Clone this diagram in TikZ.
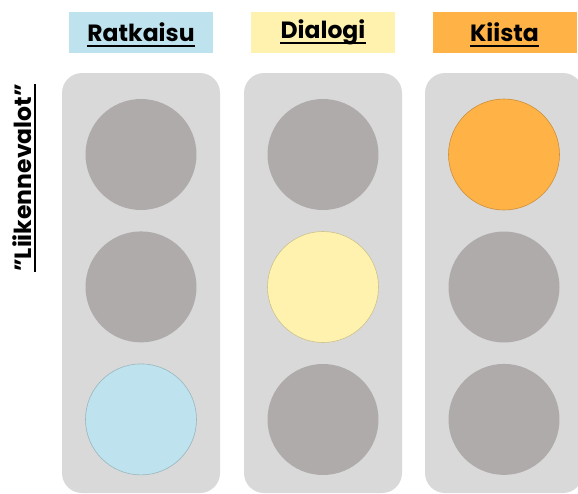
\documentclass[tikz,border=0pt]{standalone}
\usepackage{fontspec}
\setmainfont{Poppins}
\usepackage{xcolor}
\usetikzlibrary{positioning}

\definecolor{housegray}{HTML}{D9D9D9}
\definecolor{lampoff}{HTML}{AFABAB}
\definecolor{lampblue}{HTML}{BFE3EE}
\definecolor{lampyellow}{HTML}{FFF2AF}
\definecolor{lamporange}{HTML}{FFB347}

\begin{document}
\begin{tikzpicture}[
    x=1pt, y=-1pt,
    head/.style={rectangle, inner sep=0pt, minimum width=144pt, minimum height=41pt},
    title/.style={inner sep=0pt, font=\fontsize{23.5}{26}\selectfont\bfseries},
    uline/.style={line width=1.8pt},
    house/.style={rectangle, fill=housegray, rounded corners=20pt, inner sep=0pt, minimum width=158pt, minimum height=420pt},
    lamp/.style={circle, inner sep=0pt, minimum size=111pt, fill=lampoff},
    lampon/.style={lamp, draw=#1!80!black, fill=#1, line width=0.6pt}
]
    \useasboundingbox (0,0) rectangle (578,493);

    % headers
    \node [head, fill=lampblue] (h1) at (141,32.5) {};
    \node [head, fill=lampyellow] (h2) at (323,32.5) {};
    \node [head, fill=lamporange] (h3) at (504.5,32.5) {};
    \node [title] (t1) at (h1) {Ratkaisu};
    \node [title] (t2) at (h2) {Dialogi};
    \node [title] (t3) at (h3) {Kiista};
    \draw [uline] ([yshift=-4pt]t1.base west) -- ([yshift=-4pt]t1.base east);
    \draw [uline] ([yshift=-4pt]t2.base west) -- ([yshift=-4pt]t2.base east);
    \draw [uline] ([yshift=-4pt]t3.base west) -- ([yshift=-4pt]t3.base east);

    \node [title, rotate=90] (side) at (22,178) {”Liikennevalot”};
    \draw [uline] ([xshift=4pt]side.base west) -- ([xshift=4pt]side.base east);

    % housings
    \node [house] (s1) at (141,283) {};
    \node [house] (s2) at (323,283) {};
    \node [house] (s3) at (504,283) {};

    % lamps
    \node [lamp] (l11) at (141,154.5) {};
    \node [lamp, below=21pt of l11] (l12) {};
    \node [lampon=lampblue, below=21pt of l12] (l13) {};

    \node [lamp] (l21) at (323,154.5) {};
    \node [lampon=lampyellow, below=21pt of l21] (l22) {};
    \node [lamp, below=21pt of l22] (l23) {};

    \node [lampon=lamporange] (l31) at (504,154.5) {};
    \node [lamp, below=21pt of l31] (l32) {};
    \node [lamp, below=21pt of l32] (l33) {};
\end{tikzpicture}
\end{document}
